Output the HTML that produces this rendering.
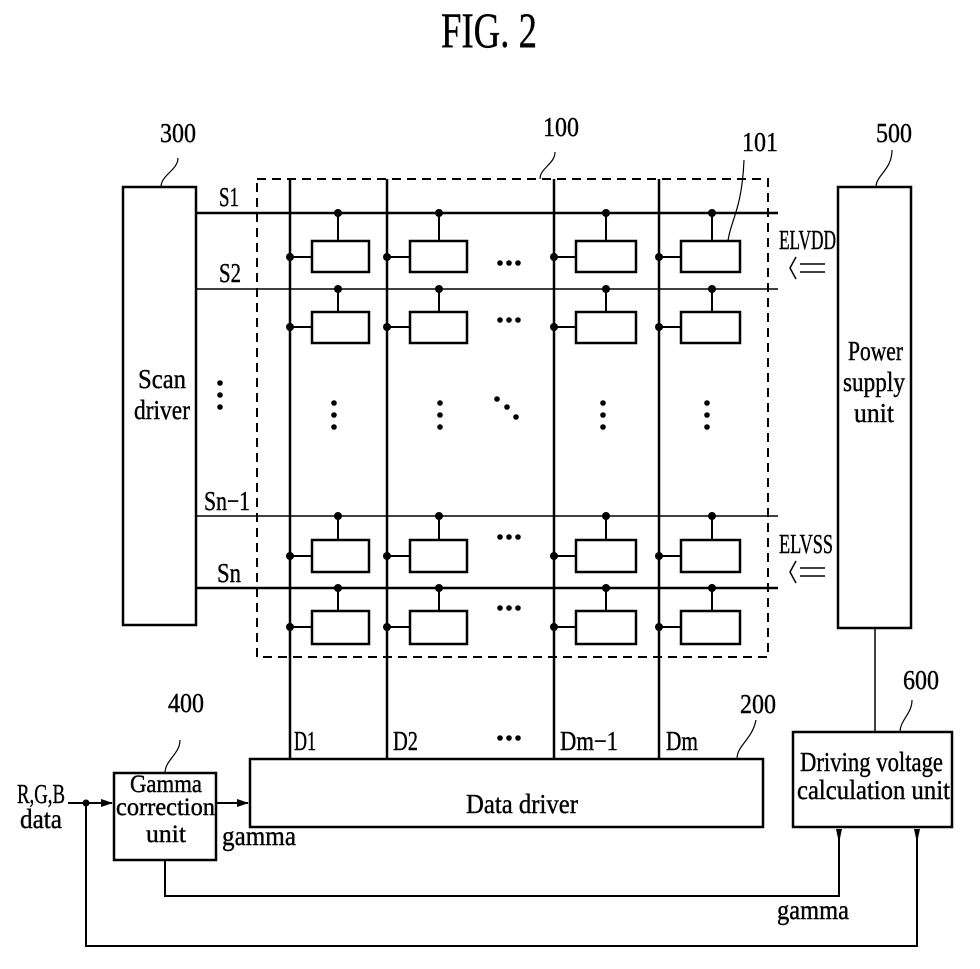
<!DOCTYPE html>
<html><head><style>body{margin:0;background:#fff}svg{display:block}text{font-family:"Liberation Serif",serif;fill:#000;stroke:#000;stroke-width:0.4}</style></head><body>
<svg width="980" height="969" viewBox="0 0 980 969" xmlns="http://www.w3.org/2000/svg">
<defs><marker id="ar" markerWidth="8" markerHeight="14" refX="4" refY="13" orient="0" markerUnits="userSpaceOnUse"><path d="M1,0 L4,14 L7,0 z" fill="#000"/></marker>
<marker id="ah" markerWidth="12" markerHeight="8" refX="11" refY="4" orient="auto" markerUnits="userSpaceOnUse"><path d="M0,0 L12,4 L0,8 z" fill="#000"/></marker></defs>
<text x="441" y="47" font-size="50" textLength="96" lengthAdjust="spacingAndGlyphs">FIG. 2</text>
<g fill="none" stroke="#000">
<rect x="257" y="179" width="511" height="478" stroke-width="2" stroke-dasharray="9,6"/>
<rect x="123" y="187" width="73" height="438" stroke-width="2.5"/>
<rect x="838" y="187" width="73" height="441" stroke-width="2.5"/>
<g stroke-width="2.5"><line x1="290" y1="179" x2="290" y2="758"/><line x1="387" y1="179" x2="387" y2="758"/><line x1="554" y1="179" x2="554" y2="758"/><line x1="659" y1="179" x2="659" y2="758"/></g>
<line x1="196" y1="213" x2="778" y2="213" stroke-width="2.5"/>
<line x1="196" y1="289" x2="778" y2="289" stroke-width="1.5"/>
<line x1="196" y1="516" x2="778" y2="516" stroke-width="1.5"/>
<line x1="196" y1="588" x2="778" y2="588" stroke-width="2.5"/>
<g stroke-width="2.5">
<rect x="312" y="241" width="57" height="31"/><rect x="410" y="241" width="57" height="31"/><rect x="576" y="241" width="60" height="31"/><rect x="681" y="241" width="59" height="31"/>
<rect x="312" y="312" width="57" height="31"/><rect x="410" y="312" width="57" height="31"/><rect x="576" y="312" width="60" height="31"/><rect x="681" y="312" width="59" height="31"/>
<rect x="312" y="540" width="57" height="32"/><rect x="410" y="540" width="57" height="32"/><rect x="576" y="540" width="60" height="32"/><rect x="681" y="540" width="59" height="32"/>
<rect x="312" y="611" width="57" height="33"/><rect x="410" y="611" width="57" height="33"/><rect x="576" y="611" width="60" height="33"/><rect x="681" y="611" width="59" height="33"/>
</g>
<g stroke-width="2">
<path d="M338 213V241M439 213V241M606 213V241M712 213V241M290 257H312M387 257H410M554 257H576M659 257H681"/>
<path d="M338 289V312M439 289V312M606 289V312M712 289V312M290 327H312M387 327H410M554 327H576M659 327H681"/>
<path d="M338 516V540M439 516V540M606 516V540M712 516V540M290 556H312M387 556H410M554 556H576M659 556H681"/>
<path d="M338 588V611M439 588V611M606 588V611M712 588V611M290 627H312M387 627H410M554 627H576M659 627H681"/>
</g>
<rect x="250" y="759" width="513" height="68" stroke-width="2.5"/>
<rect x="114" y="773" width="102" height="87" stroke-width="2.5"/>
<rect x="793" y="732" width="159" height="95" stroke-width="2.5"/>
<line x1="875" y1="628" x2="875" y2="732" stroke-width="1.5"/>
<path d="M165 860V896H839V829" stroke-width="2"/>
<path d="M86 803V946H917V829" stroke-width="2"/>
<line x1="839" y1="856" x2="839" y2="842" stroke-width="2" marker-end="url(#ar)"/>
<line x1="917" y1="856" x2="917" y2="842" stroke-width="2" marker-end="url(#ar)"/>
<path d="M68 803H112" stroke-width="2" marker-end="url(#ah)"/>
<path d="M216 803H248" stroke-width="2" marker-end="url(#ah)"/>
<path d="M800 264H825M800 272H825M796 257L790 268L796 279" stroke-width="1.5"/>
<path d="M800 568H825M800 576H825M796 561L790 572L796 583" stroke-width="1.5"/>
<path d="M161 187C161 175 178 170 178 158" stroke-width="1.2"/>
<path d="M540 179C540 168 555 164 555 152" stroke-width="1.2"/>
<path d="M728 241C730 222 742 210 744 160" stroke-width="1.2"/>
<path d="M876 187C876 175 892 170 892 150" stroke-width="1.2"/>
<path d="M165 773C165 760 180 754 180 740" stroke-width="1.2"/>
<path d="M737 759C737 745 752 740 756 720" stroke-width="1.2"/>
<path d="M900 732C900 720 912 714 912 700" stroke-width="1.2"/>
</g>
<g fill="#000">
<circle cx="338" cy="213" r="4"/><circle cx="439" cy="213" r="4"/><circle cx="606" cy="213" r="4"/><circle cx="712" cy="213" r="4"/>
<circle cx="338" cy="289" r="4"/><circle cx="439" cy="289" r="4"/><circle cx="606" cy="289" r="4"/><circle cx="712" cy="289" r="4"/>
<circle cx="338" cy="516" r="4"/><circle cx="439" cy="516" r="4"/><circle cx="606" cy="516" r="4"/><circle cx="712" cy="516" r="4"/>
<circle cx="338" cy="588" r="4"/><circle cx="439" cy="588" r="4"/><circle cx="606" cy="588" r="4"/><circle cx="712" cy="588" r="4"/>
<circle cx="290" cy="257" r="4"/><circle cx="387" cy="257" r="4"/><circle cx="554" cy="257" r="4"/><circle cx="659" cy="257" r="4"/>
<circle cx="290" cy="327" r="4"/><circle cx="387" cy="327" r="4"/><circle cx="554" cy="327" r="4"/><circle cx="659" cy="327" r="4"/>
<circle cx="290" cy="556" r="4"/><circle cx="387" cy="556" r="4"/><circle cx="554" cy="556" r="4"/><circle cx="659" cy="556" r="4"/>
<circle cx="290" cy="627" r="4"/><circle cx="387" cy="627" r="4"/><circle cx="554" cy="627" r="4"/><circle cx="659" cy="627" r="4"/>
<circle cx="86" cy="803" r="3.5"/>
<g><circle cx="500" cy="263" r="2.8"/><circle cx="509" cy="263" r="2.8"/><circle cx="518" cy="263" r="2.8"/>
<circle cx="500" cy="320" r="2.8"/><circle cx="509" cy="320" r="2.8"/><circle cx="518" cy="320" r="2.8"/>
<circle cx="500" cy="537" r="2.8"/><circle cx="509" cy="537" r="2.8"/><circle cx="518" cy="537" r="2.8"/>
<circle cx="500" cy="608" r="2.8"/><circle cx="509" cy="608" r="2.8"/><circle cx="518" cy="608" r="2.8"/>
<circle cx="500" cy="738" r="2.8"/><circle cx="509" cy="738" r="2.8"/><circle cx="518" cy="738" r="2.8"/>
<circle cx="220" cy="383" r="2.8"/><circle cx="220" cy="395" r="2.8"/><circle cx="220" cy="407" r="2.8"/>
<circle cx="334" cy="403" r="2.8"/><circle cx="334" cy="415" r="2.8"/><circle cx="334" cy="427" r="2.8"/>
<circle cx="440" cy="403" r="2.8"/><circle cx="440" cy="415" r="2.8"/><circle cx="440" cy="427" r="2.8"/>
<circle cx="497" cy="399" r="2.8"/><circle cx="507" cy="407" r="2.8"/><circle cx="516" cy="417" r="2.8"/>
<circle cx="603" cy="403" r="2.8"/><circle cx="603" cy="415" r="2.8"/><circle cx="603" cy="427" r="2.8"/>
<circle cx="707" cy="403" r="2.8"/><circle cx="707" cy="415" r="2.8"/><circle cx="707" cy="427" r="2.8"/></g>
</g>
<g font-size="27">
<text x="160" y="142" textLength="36" lengthAdjust="spacingAndGlyphs">300</text>
<text x="543" y="136" textLength="36" lengthAdjust="spacingAndGlyphs">100</text>
<text x="742" y="151" textLength="36" lengthAdjust="spacingAndGlyphs">101</text>
<text x="876" y="142" textLength="36" lengthAdjust="spacingAndGlyphs">500</text>
<text x="168" y="712" textLength="36" lengthAdjust="spacingAndGlyphs">400</text>
<text x="740" y="713" textLength="36" lengthAdjust="spacingAndGlyphs">200</text>
<text x="903" y="689" textLength="36" lengthAdjust="spacingAndGlyphs">600</text>
<text x="219" y="206" textLength="20" lengthAdjust="spacingAndGlyphs">S1</text>
<text x="219" y="282" textLength="22" lengthAdjust="spacingAndGlyphs">S2</text>
<text x="204" y="510" textLength="46" lengthAdjust="spacingAndGlyphs">Sn−1</text>
<text x="217" y="582" textLength="24" lengthAdjust="spacingAndGlyphs">Sn</text>
<text x="779" y="249" textLength="57" lengthAdjust="spacingAndGlyphs">ELVDD</text>
<text x="779" y="553" textLength="54" lengthAdjust="spacingAndGlyphs">ELVSS</text>
<text x="138" y="388" textLength="48" lengthAdjust="spacingAndGlyphs">Scan</text>
<text x="134" y="419" textLength="56" lengthAdjust="spacingAndGlyphs">driver</text>
<text x="848" y="360" textLength="55" lengthAdjust="spacingAndGlyphs">Power</text>
<text x="843" y="391" textLength="62" lengthAdjust="spacingAndGlyphs">supply</text>
<text x="854" y="422" textLength="40" lengthAdjust="spacingAndGlyphs">unit</text>
<text x="294" y="750" textLength="22" lengthAdjust="spacingAndGlyphs">D1</text>
<text x="393" y="750" textLength="25" lengthAdjust="spacingAndGlyphs">D2</text>
<text x="560" y="750" textLength="58" lengthAdjust="spacingAndGlyphs">Dm−1</text>
<text x="666" y="750" textLength="32" lengthAdjust="spacingAndGlyphs">Dm</text>
<text x="466" y="813" textLength="112" lengthAdjust="spacingAndGlyphs">Data driver</text>
<text x="130" y="792" font-size="25" textLength="72" lengthAdjust="spacingAndGlyphs">Gamma</text>
<text x="116" y="815" font-size="25" textLength="99" lengthAdjust="spacingAndGlyphs">correction</text>
<text x="146" y="842" font-size="25" textLength="40" lengthAdjust="spacingAndGlyphs">unit</text>
<text x="222" y="845" textLength="74" lengthAdjust="spacingAndGlyphs">gamma</text>
<text x="777" y="919" textLength="72" lengthAdjust="spacingAndGlyphs">gamma</text>
<text x="17" y="803" textLength="48" lengthAdjust="spacingAndGlyphs">R,G,B</text>
<text x="20" y="828" textLength="42" lengthAdjust="spacingAndGlyphs">data</text>
<text x="800" y="771" textLength="143" lengthAdjust="spacingAndGlyphs">Driving voltage</text>
<text x="797" y="799" textLength="153" lengthAdjust="spacingAndGlyphs">calculation unit</text>
</g>
</svg>
</body></html>
